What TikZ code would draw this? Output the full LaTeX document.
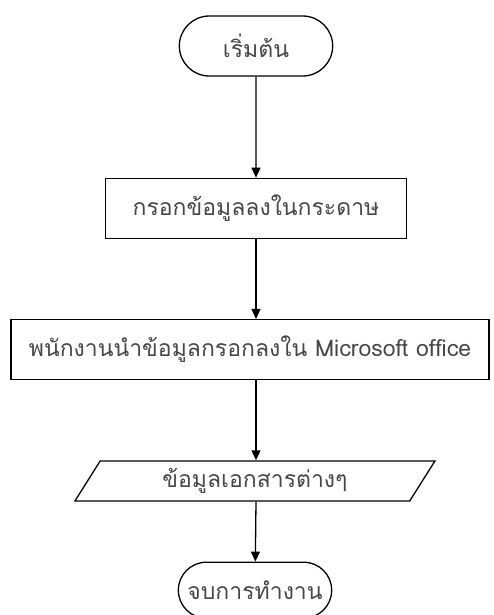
\documentclass[tikz,border=0pt]{standalone}
\usepackage{fontspec}
\setmainfont[Script=Thai]{Loma}
\usetikzlibrary{positioning, shapes.misc, shapes.geometric, arrows.meta}
\begin{document}
\begin{tikzpicture}[
x=1pt, y=1pt,
terminal/.style={rounded rectangle, draw=black, line width=1.3pt, minimum width=160pt, minimum height=60pt, text=black!72, font=\fontsize{23}{25}\selectfont},
process/.style={rectangle, draw=black, line width=1.3pt, minimum height=60pt, text=black!72, font=\fontsize{23}{25}\selectfont},
data/.style={trapezium, trapezium left angle=45, trapezium right angle=135, trapezium stretches body, draw=black, line width=1.3pt, minimum width=360pt, minimum height=40pt, inner ysep=0pt, text=black!72, font=\fontsize{23}{25}\selectfont},
flow/.style={-{Triangle[length=10pt, width=9pt]}, line width=1.3pt},
]
\useasboundingbox (0,0) rectangle (494,-615);
\node (start) [terminal] at (256,-46) {เริ่มต้น};
\node (fill) [process, minimum width=301pt, below=101pt of start] {กรอกข้อมูลลงในกระดาษ};
\node (type) [process, minimum width=478pt, below=80pt of fill, xshift=-6pt] {พนักงานนำข้อมูลกรอกลงใน Microsoft office};
\node (docs) [data, below=80pt of type, xshift=5pt] {ข้อมูลเอกสารต่างๆ};
\node (stop) [terminal, minimum height=56pt, below=60pt of docs] {จบการทำงาน};
\draw[flow] (start) -- (fill);
\draw[flow] (fill) -- (fill.south |- type.north);
\draw[flow] (fill.south |- type.south) -- (fill.south |- docs.north);
\draw[flow] (fill.south |- docs.south) -- (stop);
\end{tikzpicture}
\end{document}
